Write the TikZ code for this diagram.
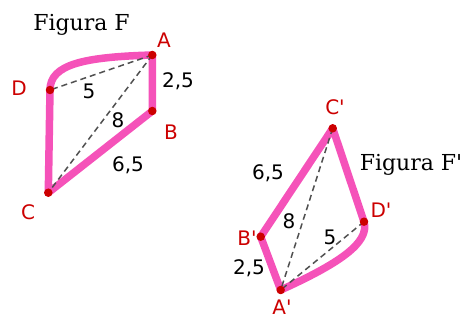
\documentclass[tikz,border=0pt]{standalone}
\usepackage{fontspec}
\newfontfamily\titlefont{DejaVu Serif}
\newfontfamily\lblfont{DejaVu Sans}
\definecolor{edgepink}{RGB}{245,82,185}
\definecolor{ptred}{RGB}{204,0,0}
\definecolor{dashgray}{RGB}{80,80,80}
\tikzset{
  side/.style={draw=edgepink, line width=7.5pt, line join=round, line cap=round},
  diag/.style={draw=dashgray, line width=1.5pt, dash pattern=on 6pt off 4pt},
  pt/.style={circle, fill=ptred, inner sep=0pt, minimum size=8.5pt},
  vlabel/.style={text=ptred, font=\lblfont\fontsize{20}{20}\selectfont, inner sep=0pt},
  nlabel/.style={text=black, font=\lblfont\fontsize{20}{20}\selectfont, inner sep=0pt},
  title/.style={font=\titlefont\fontsize{22}{22}\selectfont, inner sep=0pt, anchor=base}
}
\begin{document}
\begin{tikzpicture}[x=1pt, y=-1pt]
\useasboundingbox (0,0) rectangle (463,320);
% Figure F
\coordinate (A) at (152.3,55);
\coordinate (B) at (152.3,111);
\coordinate (C) at (48.3,192.7);
\coordinate (D) at (50,90);
\draw[side] (A) -- (B) -- (C) -- (D) .. controls (50,64) and (85,57) .. (A);
\draw[diag] (A) -- (D);
\draw[diag] (A) -- (C);
% Figure F'
\coordinate (A2) at (280.7,290);
\coordinate (B2) at (260.7,236.7);
\coordinate (C2) at (332.7,128.3);
\coordinate (D2) at (364,221.7);
\draw[side] (A2) -- (B2) -- (C2) -- (D2) .. controls (370,243) and (338,264) .. (A2);
\draw[diag] (C2) -- (A2);
\draw[diag] (D2) -- (A2);
% points
\foreach \p in {A,B,C,D,A2,B2,C2,D2} \node[pt] (p\p) at (\p) {};
% vertex labels
\node[vlabel] (lA) at (164,40) {A};
\node[vlabel] (lB) at (171,132) {B};
\node[vlabel] (lC) at (28,212) {C};
\node[vlabel] (lD) at (19,88) {D};
\node[vlabel] (lA2) at (282,307) {A'};
\node[vlabel] (lB2) at (247,238) {B'};
\node[vlabel] (lC2) at (335,107) {C'};
\node[vlabel] (lD2) at (381,210) {D'};
% measures
\node[nlabel] (m1) at (89,91) {5};
\node[nlabel] (m2) at (178,81) {2,5};
\node[nlabel] (m3) at (118,120) {8};
\node[nlabel] (m4) at (128,165) {6,5};
\node[nlabel] (m5) at (268,173) {6,5};
\node[nlabel] (m6) at (289,221) {8};
\node[nlabel] (m7) at (330,237) {5};
\node[nlabel] (m8) at (249,268) {2,5};
% titles
\node[title] (t1) at (81.5,31) {Figura F};
\node[title] (t2) at (411,171) {Figura F'};
\end{tikzpicture}
\end{document}
